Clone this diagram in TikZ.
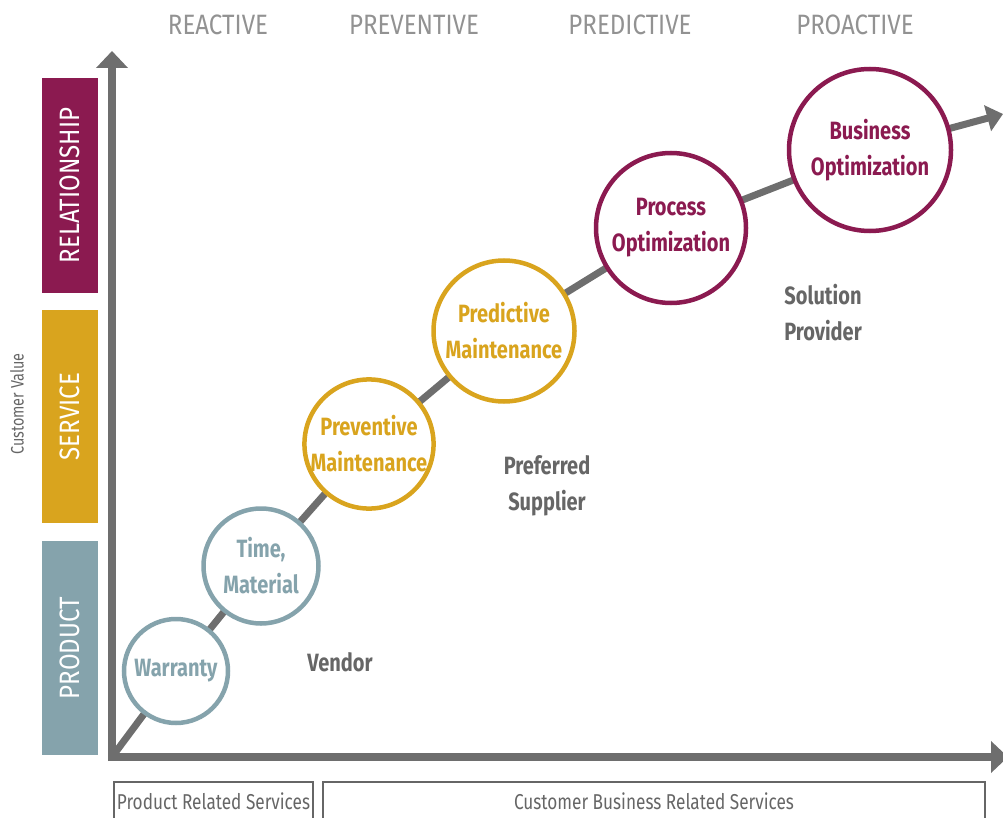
\documentclass[tikz,border=0pt]{standalone}
\usepackage{fontspec}
\setmainfont{Fira Sans}
\newfontfamily\narrowfont[FakeStretch=0.80]{Fira Sans}
\newfontfamily\titlefont[FakeStretch=0.86]{Fira Sans}
\newfontfamily\narrowbold[FakeStretch=0.80]{Fira Sans Bold}
\usetikzlibrary{arrows.meta}
\definecolor{plum}{HTML}{8B1A50}
\definecolor{gold}{HTML}{D9A41E}
\definecolor{slate}{HTML}{85A3AC}
\definecolor{axisgray}{HTML}{6E6E6E}
\definecolor{textgray}{HTML}{666666}
\definecolor{lightgray}{HTML}{929292}
\tikzset{
  axis/.style={draw=axisgray, line width=8pt, -{Triangle[width=31pt,length=17pt]}},
  path/.style={draw=axisgray, line width=7pt},
  stage/.style={circle, fill=white, line width=4.5pt, align=center,
    font=\narrowbold\fontsize{25}{36}\selectfont, inner sep=0pt},
  level/.style={font=\titlefont\fontsize{28}{30}\selectfont, text=lightgray},
  bartext/.style={rotate=90, text=white, font=\titlefont\fontsize{28}{30}\selectfont},
  role/.style={align=center, text=textgray, font=\narrowbold\fontsize{25}{36}\selectfont},
  band/.style={draw=textgray, line width=1.3pt},
  bandtext/.style={text=textgray, font=\narrowfont\fontsize{21.5}{22}\selectfont}
}
\begin{document}
\begin{tikzpicture}[x=1pt,y=-1pt]
\useasboundingbox (0,0) rectangle (1003,818);

% maturity levels along the top
\node[level] (reactive)   at (218,25) {REACTIVE};
\node[level] (preventive) at (414,25) {PREVENTIVE};
\node[level] (predictive) at (630,25) {PREDICTIVE};
\node[level] (proactive)  at (855,25) {PROACTIVE};

% value categories on the left
\fill[plum]  (42,78)  rectangle (98,293);
\fill[gold]  (42,310) rectangle (98,523);
\fill[slate] (42,541) rectangle (98,755);
\node[bartext] (relationship) at (70,185.5) {RELATIONSHIP};
\node[bartext] (service)      at (70,416.5) {SERVICE};
\node[bartext] (product)      at (70,648)   {PRODUCT};
\node[rotate=90, text=textgray, font=\narrowfont\fontsize{18}{20}\selectfont] (value) at (17,404) {Customer Value};

% axes
\coordinate (origin) at (112,757);
\coordinate (ytip) at (112,51);
\coordinate (xtip) at (1008,757);
\draw[axis] (112,761) -- (ytip);
\draw[axis] (108,757) -- (xtip);

% stage circles along the growth path
\coordinate (cw) at (176,671);
\coordinate (ct) at (261,566);
\coordinate (cpv) at (369,444);
\coordinate (cpd) at (504,331);
\coordinate (cpo) at (671,228);
\coordinate (cbo) at (870,150);
\coordinate (ptip) at (1003,114);

\draw[path] (origin) -- (cw) -- (ct) -- (cpv) -- (cpd) -- (cpo) -- (cbo);
\draw[path, -{Triangle[width=26pt,length=16pt]}] (cbo) -- (ptip);

\node[stage, draw=slate, text=slate, minimum size=104pt] (warranty) at (cw) {Warranty};
\node[stage, draw=slate, text=slate, minimum size=115pt] (time) at (ct) {Time,\\Material};
\node[stage, draw=gold, text=gold, minimum size=129pt] (prevmaint) at (cpv) {Preventive\\Maintenance};
\node[stage, draw=gold, text=gold, minimum size=141pt] (predmaint) at (cpd) {Predictive\\Maintenance};
\node[stage, draw=plum, text=plum, minimum size=150pt] (procopt) at (cpo) {Process\\Optimization};
\node[stage, draw=plum, text=plum, minimum size=162pt] (busopt) at (cbo) {Business\\Optimization};

% supplier roles
\node[role] (vendor)    at (340,662) {Vendor};
\node[role] (preferred) at (547,486) {Preferred\\Supplier};
\node[role] (solution)  at (823,313) {Solution\\Provider};

% service bands under the horizontal axis
\draw[band] (114,830) -- (114,782) -- (313,782) -- (313,830);
\draw[band] (323,830) -- (323,782) -- (985,782) -- (985,830);
\node[bandtext] (prs) at (213.5,801) {Product Related Services};
\node[bandtext] (cbrs) at (654,801) {Customer Business Related Services};
\end{tikzpicture}
\end{document}
